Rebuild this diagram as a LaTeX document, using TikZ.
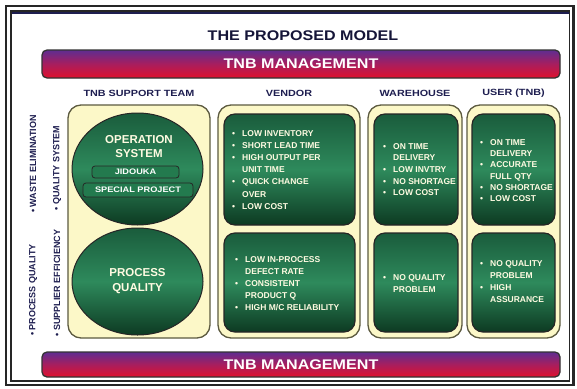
\documentclass[tikz,border=0pt]{standalone}
\usepackage{fontspec}
\usepackage{graphicx}
\setmainfont{Liberation Sans}
\setsansfont{Liberation Sans}
\usetikzlibrary{shapes.geometric}
\definecolor{cream}{HTML}{FCF8C8}
\definecolor{panelline}{HTML}{5C5A40}
\definecolor{gtop}{HTML}{1A5C3C}
\definecolor{gmid}{HTML}{2E8A5C}
\definecolor{gbot}{HTML}{0D3A22}
\definecolor{gtag}{HTML}{237A4E}
\definecolor{barpurple}{HTML}{5E2D91}
\definecolor{barred}{HTML}{E0102C}
\definecolor{barmid}{HTML}{A81E5E}
\definecolor{navy}{HTML}{1E1E50}
\definecolor{lighttext}{HTML}{FFFBE2}
\newcommand\bp{\makebox[10pt][l]{\textbullet}}
\newcommand\ci{\hspace*{10pt}}
\newcommand\wide[1]{\scalebox{1.15}[1]{#1}}
\begin{document}
\begin{tikzpicture}[x=1pt,y=-1pt,
  title/.style={font=\bfseries\fontsize{14}{16}\selectfont, text=navy!70!black, inner sep=0pt},
  mgmt/.style={rounded corners=5pt, draw=black!80, line width=1.3pt,
    top color=barpurple, bottom color=barred, middle color=barmid,
    text=white, font=\bfseries\fontsize{14}{16}\selectfont, inner sep=0pt},
  header/.style={font=\bfseries\fontsize{9}{11}\selectfont, text=navy, inner sep=0pt},
  panel/.style={rounded corners=13pt, fill=cream, draw=panelline, line width=1.3pt, inner sep=0pt},
  gbox/.style={rounded corners=11pt, draw=black!85, line width=1.2pt,
    top color=gtop, bottom color=gbot, middle color=gmid, inner sep=0pt},
  circ/.style={ellipse, draw=black!85, line width=1pt,
    top color=gtop, bottom color=gbot, middle color=gmid, inner sep=0pt,
    text=lighttext, align=center, font=\bfseries\fontsize{11.5}{15}\selectfont},
  tag/.style={rounded corners=3pt, draw=black!85, line width=0.8pt, fill=gtag,
    text=white, font=\bfseries\fontsize{8}{9}\selectfont, inner sep=0pt},
  blist/.style={anchor=north west, inner sep=0pt, align=left, text=lighttext,
    font=\bfseries\fontsize{8.5}{12.2}\selectfont},
  side/.style={rotate=90, inner sep=0pt, text=navy, font=\bfseries\fontsize{9}{10}\selectfont}
]
\useasboundingbox (0,0) rectangle (577,388);
\fill[white] (0,0) rectangle (577,388);
% frame
\draw[line width=2.6pt, black!85] (6,6) rectangle (573.5,385);
\draw[line width=1.2pt, black!85] (11,11) rectangle (569.5,381);
\draw[line width=1.6pt, navy] (12,13) -- (569,13);

% title and bars
\node[title] (title) at (303,36) {\wide{THE PROPOSED MODEL}};
\node[mgmt, minimum width=518pt, minimum height=28pt] (topbar) at (301,64) {\wide{TNB MANAGEMENT}};
\node[mgmt, minimum width=518pt, minimum height=25pt] (botbar) at (301,364.5) {\wide{TNB MANAGEMENT}};

% headers
\node[header] (hsupp) at (139,93) {\scalebox{1.2}[1]{TNB SUPPORT TEAM}};
\node[header] (hvend) at (289,93) {\scalebox{1.2}[1]{VENDOR}};
\node[header] (hware) at (415,93) {\scalebox{1.2}[1]{WAREHOUSE}};
\node[header] (huser) at (513.5,93) {\scalebox{1.2}[1]{USER (TNB)}};

% panels
\node[panel, minimum width=142pt, minimum height=233pt] (psupp) at (139,221.5) {};
\node[panel, minimum width=142pt, minimum height=233pt] (pvend) at (289,221.5) {};
\node[panel, minimum width=94pt, minimum height=233pt] (pware) at (415,221.5) {};
\node[panel, minimum width=93pt, minimum height=233pt] (puser) at (513.5,221.5) {};

% support team circles
\node[circ, minimum width=131pt, minimum height=112pt] (opcirc) at (137.5,169) {};
\node[inner sep=0pt, align=center, text=lighttext, font=\bfseries\fontsize{11.5}{14}\selectfont] (optext) at (139,147) {OPERATION\\SYSTEM};
\node[tag, minimum width=87pt, minimum height=12pt] (jid) at (135.5,172) {\wide{JIDOUKA}};
\node[tag, minimum width=110pt, minimum height=14pt] (spec) at (138,190) {\wide{SPECIAL PROJECT}};
\node[circ, minimum width=131pt, minimum height=107pt] (pqcirc) at (137.5,281.5) {PROCESS\\QUALITY};

% green boxes
\node[gbox, minimum width=131pt, minimum height=111pt] (vtop) at (289.5,169.5) {};
\node[gbox, minimum width=131pt, minimum height=99pt] (vbot) at (289.5,282.5) {};
\node[gbox, minimum width=84pt, minimum height=111pt] (wtop) at (416,169.5) {};
\node[gbox, minimum width=84pt, minimum height=99pt] (wbot) at (416,282.5) {};
\node[gbox, minimum width=83pt, minimum height=111pt] (utop) at (513.5,169.5) {};
\node[gbox, minimum width=83pt, minimum height=99pt] (ubot) at (513.5,282.5) {};

% bullet lists
\node[blist] (tvtop) at (232,130) {\bp LOW INVENTORY\\ \bp SHORT LEAD TIME\\ \bp HIGH OUTPUT PER\\ \ci UNIT TIME\\ \bp QUICK CHANGE\\ \ci OVER\\ \bp LOW COST};
\node[blist] (tvbot) at (235,256) {\bp LOW IN-PROCESS\\ \ci DEFECT RATE\\ \bp CONSISTENT\\ \ci PRODUCT Q\\ \bp HIGH M/C RELIABILITY};
\node[blist, font=\bfseries\fontsize{8.5}{11.7}\selectfont] (twtop) at (383,143) {\bp ON TIME\\ \ci DELIVERY\\ \bp LOW INVTRY\\ \bp NO SHORTAGE\\ \bp LOW COST};
\node[blist] (twbot) at (383,274) {\bp NO QUALITY\\ \ci PROBLEM};
\node[blist, font=\bfseries\fontsize{8.5}{11.3}\selectfont] (tutop) at (480,139) {\bp ON TIME\\ \ci DELIVERY\\ \bp ACCURATE\\ \ci FULL QTY\\ \bp NO SHORTAGE\\ \bp LOW COST};
\node[blist, font=\bfseries\fontsize{8.5}{12}\selectfont] (tubot) at (480,260) {\bp NO QUALITY\\ \ci PROBLEM\\ \bp HIGH\\ \ci ASSURANCE};

% side labels
\node[side] (swaste) at (33,164) {\textbullet\ WASTE ELIMINATION};
\node[side] (squal) at (57,168) {\textbullet\ QUALITY SYSTEM};
\node[side] (sproc) at (33,290) {\textbullet\ PROCESS QUALITY};
\node[side] (ssupp) at (57,283) {\textbullet\ SUPPLIER EFFICIENCY};
\end{tikzpicture}
\end{document}
